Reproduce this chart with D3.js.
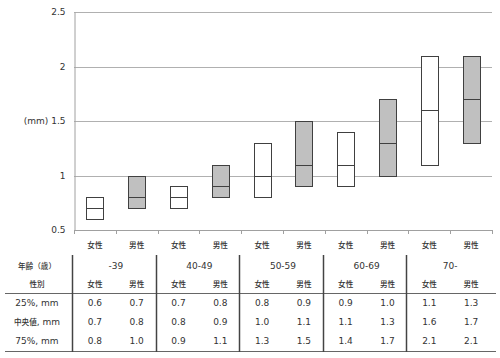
<!DOCTYPE html>
<html><head><meta charset="utf-8">
<script src="https://cdn.jsdelivr.net/npm/d3@7"></script>
<style>body{margin:0;background:#fff}svg{display:block}text{font-family:"DejaVu Sans",Verdana,sans-serif;fill:#333}</style>
</head><body><svg id="c" width="500" height="358"></svg>
<script>
const ages = ["-39","40-49","50-59","60-69","70-"];
const sexes = ["女性","男性"];
const q25 = [0.6,0.7,0.7,0.8,0.8,0.9,0.9,1.0,1.1,1.3];
const median = [0.7,0.8,0.8,0.9,1.0,1.1,1.1,1.3,1.6,1.7];
const q75 = [0.8,1.0,0.9,1.1,1.3,1.5,1.4,1.7,2.1,2.1];
const yTicks = [0.5,1,1.5,2,2.5];
const rowLabels = ["25%, mm","中央値, mm","75%, mm"];
const headLabels = ["年齢（歳）","性別"];
const yLabel = "(mm)";

const groups = [];
ages.forEach((a,i)=>sexes.forEach((s,j)=>groups.push({age:a,sex:s,idx:i*2+j})));

const svg = d3.select("#c");
const pL=74, pR=492, pT=12, pB=230;
const x = d3.scaleBand().domain(groups.map(d=>d.idx)).range([pL,pR]);
const y = d3.scaleLinear().domain([0.5,2.5]).range([pB,pT]);

// text helper: CJK runs drawn smaller, in a CJK font
function richText(sel, str){
  sel.text(null);
  const runs = str.match(/[\u3000-\u9fff\uff00-\uffef]+|[^\u3000-\u9fff\uff00-\uffef]+/g) || [];
  runs.forEach(r=>{
    const cjk = /[\u3000-\u9fff\uff00-\uffef]/.test(r);
    sel.append("tspan").text(r)
      .attr("font-size", cjk?7.6:9)
      .style("font-family", cjk?'"Noto Sans CJK JP",sans-serif':'"DejaVu Sans",sans-serif')
      .style("font-weight", cjk?"500":"normal");
  });
}
function label(g, xp, yp, str){
  const tx = g.append("text").attr("x",xp).attr("y",yp).attr("dy","0.35em").attr("text-anchor","middle").attr("font-size",9);
  richText(tx, str);
  return tx;
}

// gridlines
svg.append("g").selectAll("line").data(yTicks.filter(t=>t>0.5)).join("line")
  .attr("x1",pL).attr("x2",pR).attr("y1",d=>Math.round(y(d))+0.5).attr("y2",d=>Math.round(y(d))+0.5)
  .attr("stroke","#b0b0b0").attr("stroke-width",1);

// y axis
const ya = svg.append("g").attr("transform",`translate(${pL+0.5},0)`)
  .call(d3.axisLeft(y).tickValues(yTicks).tickFormat(d=>String(d)).tickSize(0).tickPadding(9));
ya.select(".domain").attr("stroke","#a0a0a0");
ya.selectAll("text").attr("font-size",9).attr("fill","#333").style("font-family","DejaVu Sans");
svg.append("text").attr("x",36).attr("y",y(1.5)).attr("dy","0.35em").attr("text-anchor","middle").attr("font-size",9).text(yLabel);

// x axis
const bounds = d3.range(0,11).map(i=>pL + i*x.step());
svg.append("line").attr("x1",pL).attr("x2",pR).attr("y1",pB+0.5).attr("y2",pB+0.5).attr("stroke","#a0a0a0");
svg.append("g").selectAll("line").data(bounds).join("line")
  .attr("x1",d=>Math.round(d)+0.5).attr("x2",d=>Math.round(d)+0.5).attr("y1",pB).attr("y2",pB+4).attr("stroke","#a0a0a0");

// boxes
const bw = 17;
const cx = d=>x(d.idx)+x.bandwidth()/2;
const bx = svg.append("g");
bx.selectAll("rect").data(groups).join("rect")
  .attr("x",d=>Math.round(cx(d)-bw/2)+0.5).attr("width",bw)
  .attr("y",d=>Math.round(y(q75[d.idx]))+0.5).attr("height",d=>Math.round(y(q25[d.idx]))-Math.round(y(q75[d.idx])))
  .attr("fill",d=>d.sex==="男性"?"#c0c0c0":"#fff").attr("stroke","#404040").attr("stroke-width",1);
bx.selectAll("line").data(groups).join("line")
  .attr("x1",d=>Math.round(cx(d)-bw/2)+0.5).attr("x2",d=>Math.round(cx(d)-bw/2)+0.5+bw)
  .attr("y1",d=>Math.round(y(median[d.idx]))+0.5).attr("y2",d=>Math.round(y(median[d.idx]))+0.5)
  .attr("stroke","#404040").attr("stroke-width",1);

// category labels under axis
const cg = svg.append("g");
groups.forEach(d=>label(cg, cx(d), 245, d.sex));

// table
const rowY = {age:265.5, sex:284, r:[303,322,341]};
const labX = 37;
const t = svg.append("g");
label(t, labX, rowY.age, headLabels[0]);
label(t, labX, rowY.sex, headLabels[1]);
ages.forEach((a,i)=>label(t, pL+(2*i+1)*x.step(), rowY.age, a));
groups.forEach(d=>label(t, cx(d), rowY.sex, d.sex));
const rows = [q25,median,q75];
rowLabels.forEach((lab,r)=>{
  label(t, labX, rowY.r[r], lab);
  groups.forEach(d=>label(t, cx(d), rowY.r[r], rows[r][d.idx].toFixed(1)));
});
// table lines
t.append("line").attr("x1",5).attr("x2",496).attr("y1",293.5).attr("y2",293.5).attr("stroke","#666");
t.append("line").attr("x1",5).attr("x2",496).attr("y1",351.5).attr("y2",351.5).attr("stroke","#666");
t.selectAll(".vl").data(d3.range(0,5)).join("line").attr("class","vl")
  .attr("x1",i=>Math.round(pL-2+i*2*x.step())+0.5).attr("x2",i=>Math.round(pL-2+i*2*x.step())+0.5)
  .attr("y1",255).attr("y2",352).attr("stroke","#444").attr("stroke-width",1.5);
</script></body></html>
